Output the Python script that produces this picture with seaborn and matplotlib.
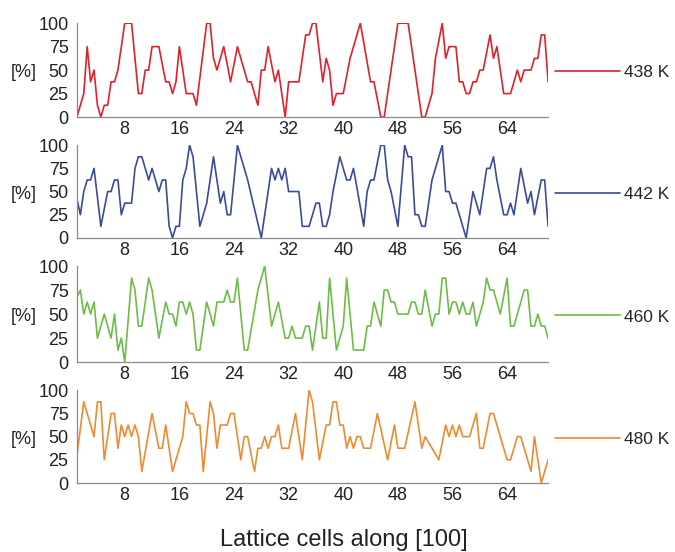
import matplotlib
matplotlib.use("Agg")
import matplotlib.pyplot as plt
from matplotlib.ticker import MultipleLocator
import pandas as pd
import seaborn as sns

# occupancy profiles along the lattice, one per temperature
x_438 = [1, 2, 2.5, 3, 3.5, 4, 4.5, 5, 5.5, 6, 6.5, 7, 8, 9, 10, 10.5, 11, 11.5, 12, 13,
         14, 14.5, 15, 15.5, 16, 17, 18, 18.5, 20, 20.5, 21, 21.5, 22.5, 23.5, 24.5, 25.5,
         26, 26.5, 27.5, 28, 28.5, 29, 30, 30.5, 31.5, 32, 33.5, 34.5, 35, 35.5, 36, 37,
         37.5, 38, 38.5, 39, 40, 41, 42.5, 44, 44.5, 45.5, 46, 48, 49.5, 51.5, 52, 53, 53.5,
         54.5, 55, 55.5, 56.5, 57, 57.5, 58, 58.5, 59, 59.5, 60, 60.5, 61.5, 62, 62.5, 63.5,
         64.5, 65.5, 66, 66.5, 67.5, 68, 68.5, 69, 69.5, 70]
y_438 = [0, 25, 75, 37.5, 50, 12.5, 0, 12.5, 12.5, 37.5, 37.5, 50, 100, 100, 25, 25, 50, 50, 75, 75,
         37.5, 37.5, 25, 37.5, 75, 25, 25, 12.5, 100, 100, 62.5, 50, 75, 37.5, 75, 50,
         37.5, 37.5, 12.5, 50, 50, 75, 37.5, 50, 0, 37.5, 37.5, 87.5, 87.5, 100, 100, 37.5,
         62.5, 50, 12.5, 25, 25, 62.5, 100, 37.5, 37.5, 0, 0, 100, 100, 0, 0, 25, 62.5,
         100, 62.5, 75, 75, 37.5, 37.5, 25, 25, 37.5, 37.5, 50, 50, 87.5, 62.5, 75, 25,
         25, 50, 37.5, 50, 50, 62.5, 62.5, 87.5, 87.5, 37.5]

x_442 = [1, 1.5, 2, 2.5, 3, 3.5, 4.5, 5.5, 6, 6.5, 7, 7.5, 8, 9, 9.5, 10, 10.5, 11.5, 12, 13,
         13.5, 14, 14.5, 15, 15.5, 16, 16.5, 17, 17.5, 18, 19, 20, 21, 22, 22.5, 23, 23.5,
         24.5, 26, 28, 29, 29.5, 30, 30.5, 31, 31.5, 32, 33.5, 34, 35, 36, 36.5, 37, 37.5,
         38, 38.5, 39.5, 40.5, 41, 41.5, 43, 43.5, 44, 44.5, 45.5, 46, 46.5, 47, 48, 49,
         49.5, 50, 50.5, 51, 51.5, 52, 53, 54.5, 55, 55.5, 56, 56.5, 57, 58, 59, 60, 61,
         61.5, 62, 62.5, 63.5, 64, 64.5, 65, 66, 67, 67.5, 68, 69, 69.5, 70]
y_442 = [42, 25, 50, 62.5, 62.5, 75, 12.5, 50, 50, 62.5, 62.5, 25, 37.5, 37.5, 75, 87.5, 87.5, 62.5, 75, 50,
         62.5, 62.5, 12.5, 0, 12.5, 12.5, 62.5, 75, 100, 87.5, 12.5, 37.5, 87.5, 37.5, 50, 25, 25,
         100, 62.5, 0, 50, 75, 62.5, 75, 62.5, 75, 50, 50, 12.5, 12.5, 37.5, 37.5, 12.5, 12.5,
         25, 50, 87.5, 62.5, 62.5, 75, 12.5, 50, 62.5, 62.5, 100, 100, 62.5, 50, 12.5, 100,
         87.5, 87.5, 25, 25, 12.5, 12.5, 62.5, 100, 50, 50, 37.5, 37.5, 25, 0, 50, 25, 75,
         75, 87.5, 62.5, 25, 25, 37.5, 25, 75, 37.5, 50, 25, 62.5, 62.5, 12.5]

x_460 = [1, 1.5, 2, 2.5, 3, 3.5, 4, 5, 6, 6.5, 7, 7.5, 8, 9, 9.5, 10, 10.5, 11.5, 12, 13,
         14, 14.5, 15, 15.5, 16, 16.5, 17, 17.5, 18, 18.5, 19, 20, 21, 21.5, 22.5, 23, 23.5,
         24, 24.5, 25.5, 26, 27.5, 28.5, 29.5, 30.5, 31.5, 32, 32.5, 33, 34, 34.5, 35, 35.5,
         36.5, 37, 37.5, 38, 39, 40, 40.5, 41.5, 43, 43.5, 44, 44.5, 45.5, 46, 46.5, 47,
         47.5, 48, 49.5, 50, 50.5, 51, 51.5, 52, 53, 53.5, 54, 54.5, 55, 55.5, 56, 56.5,
         57, 57.5, 58, 58.5, 59, 59.5, 60.5, 61, 61.5, 62, 63, 64, 64.5, 65, 66.5, 67,
         67.5, 68, 68.5, 69, 69.5, 70]
y_460 = [68, 75, 50, 62.5, 50, 62.5, 25, 50, 25, 50, 12.5, 25, 0, 87.5, 75, 37.5, 37.5, 87.5, 75, 25,
         62.5, 50, 50, 37.5, 62.5, 62.5, 50, 62.5, 50, 12.5, 12.5, 62.5, 37.5, 62.5, 62.5, 75, 62.5,
         62.5, 87.5, 12.5, 12.5, 75, 100, 37.5, 62.5, 25, 25, 37.5, 25, 25, 37.5, 37.5, 12.5,
         62.5, 25, 25, 87.5, 12.5, 37.5, 87.5, 12.5, 12.5, 37.5, 37.5, 62.5, 37.5, 75, 75, 62.5,
         62.5, 50, 50, 62.5, 62.5, 50, 50, 75, 37.5, 50, 50, 87.5, 87.5, 50, 62.5, 62.5,
         50, 62.5, 50, 50, 62.5, 37.5, 62.5, 87.5, 75, 75, 50, 87.5, 37.5, 37.5, 75, 75,
         37.5, 37.5, 50, 37.5, 37.5, 25]

x_480 = [1, 2, 3.5, 4, 4.5, 5, 6, 6.5, 7, 7.5, 8, 8.5, 9, 9.5, 10, 10.5, 12, 13, 13.5, 14,
         15, 16.5, 17, 17.5, 18, 18.5, 19, 19.5, 20.5, 21, 21.5, 22, 23, 23.5, 24, 25, 25.5,
         26, 27, 27.5, 28, 28.5, 29, 29.5, 30, 30.5, 31, 32, 33, 34, 35, 35.5, 36.5, 37.5,
         38, 38.5, 39, 39.5, 40, 40.5, 41, 41.5, 42, 42.5, 43, 44, 45, 46.5, 47.5, 48, 49,
         50.5, 51.5, 52, 53, 54, 55, 55.5, 56, 56.5, 57, 57.5, 58.5, 59.5, 60, 60.5, 61.5,
         62, 63, 64, 64.5, 65.5, 66, 67.5, 68, 69, 70]
y_480 = [30, 87.5, 50, 87.5, 87.5, 25, 75, 75, 37.5, 62.5, 50, 62.5, 50, 62.5, 50, 12.5, 75, 37.5, 37.5, 62.5,
         12.5, 50, 87.5, 75, 75, 62.5, 62.5, 12.5, 87.5, 75, 37.5, 62.5, 62.5, 75, 75, 25, 50,
         50, 12.5, 37.5, 37.5, 50, 37.5, 50, 50, 62.5, 37.5, 37.5, 75, 25, 100, 87.5, 25, 62.5,
         62.5, 87.5, 87.5, 62.5, 62.5, 37.5, 50, 37.5, 50, 50, 37.5, 37.5, 75, 25, 62.5, 37.5, 37.5,
         87.5, 37.5, 50, 37.5, 25, 62.5, 50, 62.5, 50, 62.5, 50, 50, 75, 37.5, 37.5, 75,
         75, 50, 25, 25, 50, 50, 12.5, 50, 0, 25]

labels = ["438 K", "442 K", "460 K", "480 K"]
colors = ["#e0202c", "#3a4a9e", "#6cbd45", "#ef8a2e"]
series = [(x_438, y_438), (x_442, y_442), (x_460, y_460), (x_480, y_480)]

sns.set_theme(style="white")
plt.rcParams["font.family"] = ["Liberation Sans", "DejaVu Sans"]

fig = plt.figure(figsize=(6.75, 5.52), dpi=100)
rects = [
    [0.114, 0.788, 0.698, 0.170],
    [0.114, 0.569, 0.698, 0.168],
    [0.114, 0.344, 0.698, 0.174],
    [0.114, 0.125, 0.698, 0.168],
]

for rect, (xs, ys), lab, col in zip(rects, series, labels, colors):
    ax = fig.add_axes(rect)
    df = pd.DataFrame({"cell": xs, "occ": ys})
    sns.lineplot(data=df, x="cell", y="occ", ax=ax, color=col, linewidth=1.2,
                 estimator=None, label=lab)
    ax.set_xlim(1, 70)
    ax.set_ylim(0, 100)
    ax.xaxis.set_major_locator(MultipleLocator(8))
    ax.xaxis.set_minor_locator(MultipleLocator(4))
    ax.yaxis.set_major_locator(MultipleLocator(25))
    ax.yaxis.set_minor_locator(MultipleLocator(12.5))
    ax.tick_params(which="both", direction="in", length=3.5, width=0.8,
                   color="#8a8a8a", labelsize=13, labelcolor="#222222")
    ax.tick_params(axis="y", pad=6)
    ax.tick_params(axis="x", pad=3)
    for side in ["top", "right"]:
        ax.spines[side].set_visible(False)
    for side in ["left", "bottom"]:
        ax.spines[side].set_color("#8a8a8a")
        ax.spines[side].set_linewidth(0.9)
    ax.set_xlabel("")
    ax.set_ylabel("[%]", rotation=0, fontsize=13, color="#222222", ha="right", va="center")
    ax.yaxis.set_label_coords(-0.085, 0.47)
    ax.legend(loc="center left", bbox_to_anchor=(1.0, 0.47), frameon=False,
              handlelength=3.75, handletextpad=0.25, borderaxespad=0.0, fontsize=12.5)

fig.text(0.51, 0.022, "Lattice cells along [100]", ha="center", va="center",
         fontsize=17, color="#222222")

fig.savefig("out.png", dpi=100)
